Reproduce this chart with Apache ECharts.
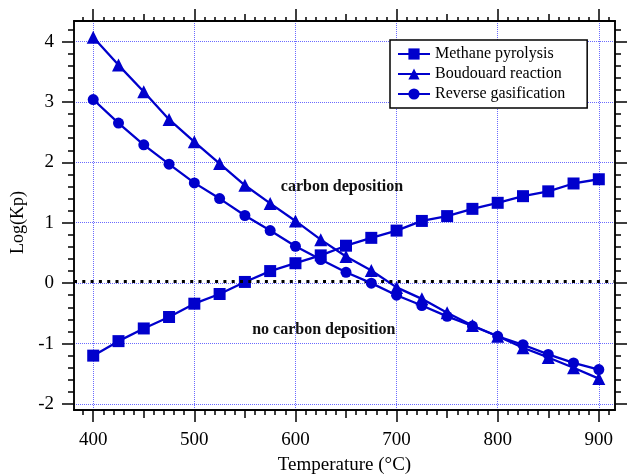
<!DOCTYPE html>
<html>
<head>
<meta charset="utf-8">
<script src="https://cdn.jsdelivr.net/npm/echarts@6/dist/echarts.min.js"></script>
<style>
  html, body { margin: 0; padding: 0; background: #fff; }
  #chart { width: 630px; height: 475px; }
</style>
</head>
<body>
<div id="chart"></div>
<script>
// Equilibrium constants, log10(Kp), versus temperature
const temperature = [400, 425, 450, 475, 500, 525, 550, 575, 600, 625, 650, 675, 700, 725, 750, 775, 800, 825, 850, 875, 900];
const methanePyrolysis = [-1.20, -0.96, -0.75, -0.56, -0.34, -0.18, 0.02, 0.20, 0.33, 0.46, 0.62, 0.75, 0.87, 1.03, 1.11, 1.23, 1.33, 1.44, 1.52, 1.65, 1.72];
const boudouardReaction = [4.07, 3.61, 3.17, 2.71, 2.34, 1.98, 1.62, 1.32, 1.03, 0.72, 0.44, 0.21, -0.07, -0.26, -0.49, -0.70, -0.88, -1.07, -1.23, -1.40, -1.58];
const reverseGasification = [3.04, 2.65, 2.29, 1.97, 1.66, 1.40, 1.12, 0.87, 0.61, 0.39, 0.18, 0.00, -0.20, -0.37, -0.55, -0.71, -0.88, -1.02, -1.18, -1.32, -1.43];

const seriesNames = ['Methane pyrolysis', 'Boudouard reaction', 'Reverse gasification'];
const xTickLabels = [400, 500, 600, 700, 800, 900];
const yTickLabels = [-2, -1, 0, 1, 2, 3, 4];
const regionLabels = ['carbon deposition', 'no carbon deposition'];
const equilibriumLevel = 0.03;

// Tick positions between the labelled ticks
const xMidTicks = [450, 550, 650, 750, 850];
const xMinorTicks = [];
for (let v = 390; v <= 910; v += 10) {
  if (v % 50 !== 0) xMinorTicks.push(v);
}
const yMinorTicks = [];
for (let i = -10; i <= 21; i++) {
  const v = Math.round(i * 2) / 10;
  if (Math.abs(v - Math.round(v)) > 1e-6) yMinorTicks.push(v);
}

const X_MIN = 381, X_MAX = 916;
const Y_MIN = -2.1, Y_MAX = 4.34;
const FONT = 'Liberation Serif';
const BLUE = '#0000cc';
const GRID_BLUE = '#6a6aff';

function xAxisDef(position, values, len, withLabels) {
  return {
    type: 'value', position: position, min: X_MIN, max: X_MAX,
    axisLine: { show: true, onZero: false, lineStyle: { color: '#000', width: 1.5 } },
    axisTick: { show: true, customValues: values, length: len, inside: false,
                lineStyle: { color: '#000', width: 1.5 } },
    axisLabel: withLabels ? { show: true, customValues: xTickLabels, margin: 21,
                fontFamily: FONT, fontSize: 19, color: '#000' } : { show: false },
    splitLine: { show: false }
  };
}
function yAxisDef(position, values, len, withLabels) {
  return {
    type: 'value', position: position, min: Y_MIN, max: Y_MAX,
    axisLine: { show: true, onZero: false, lineStyle: { color: '#000', width: 1.5 } },
    axisTick: { show: true, customValues: values, length: len, inside: false,
                lineStyle: { color: '#000', width: 1.5 } },
    axisLabel: withLabels ? { show: true, customValues: yTickLabels, margin: 20,
                fontFamily: FONT, fontSize: 19, color: '#000' } : { show: false },
    splitLine: { show: false }
  };
}

const xMain = xAxisDef('bottom', xTickLabels, 12, true);
xMain.splitLine = { show: true, lineStyle: { color: GRID_BLUE, width: 1, type: [1, 1] } };
xMain.name = 'Temperature (°C)';
xMain.nameLocation = 'middle';
xMain.nameGap = 46;
xMain.nameTextStyle = { fontFamily: FONT, fontSize: 19, color: '#000' };

const yMain = yAxisDef('left', yTickLabels, 12, true);
yMain.splitLine = { show: true, lineStyle: { color: GRID_BLUE, width: 1, type: [1, 1] } };
yMain.name = 'Log(Kp)';
yMain.nameLocation = 'middle';
yMain.nameGap = 42;
yMain.nameTextStyle = { fontFamily: FONT, fontSize: 18, color: '#000', padding: [0, 0, 0, -14] };

const symbols = ['rect', 'triangle', 'circle'];
const symbolSizes = [12, 13, 11];
const values = [methanePyrolysis, boudouardReaction, reverseGasification];

const series = seriesNames.map((name, k) => ({
  name: name,
  type: 'line',
  xAxisIndex: 0, yAxisIndex: 0,
  data: temperature.map((t, i) => [t, values[k][i]]),
  symbol: symbols[k],
  symbolSize: symbolSizes[k],
  showAllSymbol: true,
  lineStyle: { color: BLUE, width: 2.3 },
  itemStyle: { color: BLUE },
  z: 3 + k,
  animation: false
}));

// Equilibrium reference line and region annotations
series[0].markLine = {
  silent: true, symbol: 'none', animation: false,
  label: { show: false },
  lineStyle: { color: '#000', width: 3, type: [3, 5.3] },
  data: [{ yAxis: equilibriumLevel }]
};
series[0].markPoint = {
  silent: true, animation: false,
  symbol: 'circle', symbolSize: 0,
  label: { show: true, position: 'inside', fontFamily: FONT, fontSize: 16, fontWeight: 'bold', color: '#111' },
  data: [
    { coord: [646, 1.59], label: { formatter: regionLabels[0] } },
    { coord: [628, -0.77], label: { formatter: regionLabels[1] } }
  ]
};

const chart = echarts.init(document.getElementById('chart'), null, { renderer: 'canvas' });
chart.setOption({
  animation: false,
  backgroundColor: '#fff',
  grid: { left: 74, right: 15, top: 21, bottom: 65, containLabel: false, outerBoundsMode: 'none' },
  legend: {
    orient: 'vertical', left: 390, top: 40,
    data: seriesNames,
    itemWidth: 32, itemHeight: 14, itemGap: 4,
    padding: [6, 22, 6, 7],
    borderColor: '#000', borderWidth: 1.5, backgroundColor: '#fff',
    textStyle: { fontFamily: FONT, fontSize: 16, color: '#000' }
  },
  xAxis: [
    xMain,
    xAxisDef('bottom', xMidTicks, 8, false),
    xAxisDef('bottom', xMinorTicks, 5, false),
    xAxisDef('top', xTickLabels, 12, false),
    xAxisDef('top', xMidTicks, 7, false),
    xAxisDef('top', xMinorTicks, 4, false)
  ],
  yAxis: [
    yMain,
    yAxisDef('left', yMinorTicks, 6, false),
    yAxisDef('right', yTickLabels, 12, false),
    yAxisDef('right', yMinorTicks, 6, false)
  ],
  series: series
});
</script>
</body>
</html>
